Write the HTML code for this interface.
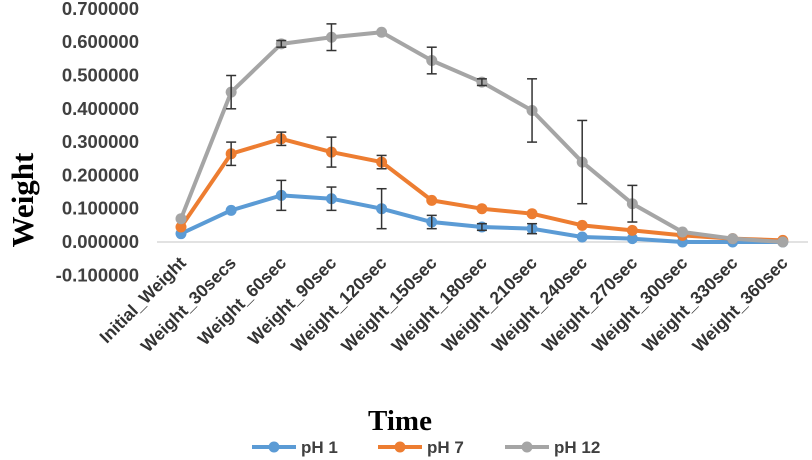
<!DOCTYPE html>
<html><head><meta charset="utf-8"><style>
body{margin:0;background:#fff;}
svg{display:block;font-family:"Liberation Sans",sans-serif;}
</style></head><body>
<svg id="chart" width="812" height="460">
<g id="yaxis"></g>
<g id="xaxis"></g>
<g id="series"></g>
<text x="33" y="200" transform="rotate(-90 33 200)" text-anchor="middle" font-family="Liberation Serif,serif" font-weight="bold" font-size="31" fill="#000">Weight</text>
<text x="400" y="430" text-anchor="middle" font-family="Liberation Serif,serif" font-weight="bold" font-size="29" fill="#000">Time</text>
<g id="legend"></g>
</svg>
<script>
const categories=["Initial_Weight","Weight_30secs","Weight_60sec","Weight_90sec","Weight_120sec","Weight_150sec","Weight_180sec","Weight_210sec","Weight_240sec","Weight_270sec","Weight_300sec","Weight_330sec","Weight_360sec"];
const ph1=[0.025,0.095,0.14,0.13,0.1,0.06,0.045,0.04,0.015,0.01,0.0,0.0,0.0];
const ph1Err=[0,0,0.045,0.035,0.06,0.02,0.01,0.015,0,0,0,0,0];
const ph7=[0.045,0.265,0.31,0.27,0.24,0.125,0.1,0.085,0.05,0.035,0.02,0.01,0.005];
const ph7Err=[0,0.035,0.02,0.045,0.02,0,0,0,0,0,0,0,0];
const ph12=[0.07,0.45,0.595,0.615,0.63,0.545,0.48,0.395,0.24,0.115,0.03,0.01,0.0];
const ph12Err=[0,0.05,0.01,0.04,0,0.04,0.01,0.095,0.125,0.055,0,0,0];
const yTicks=[-0.1,0,0.1,0.2,0.3,0.4,0.5,0.6,0.7];
const seriesNames=["pH 1","pH 7","pH 12"];
const NS="http://www.w3.org/2000/svg";
const y=v=>242-v*333;
const x=i=>181+i*50.15;
function mk(t,a,p){const e=document.createElementNS(NS,t);for(const k in a)e.setAttribute(k,a[k]);p.appendChild(e);return e;}
const ya=document.getElementById('yaxis');
yTicks.forEach(v=>{const t=mk('text',{x:139,y:y(v)+6,'text-anchor':'end','font-size':18.5,'font-weight':'bold',fill:'#404040'},ya);


t.textContent=v.toFixed(6);});
const xa=document.getElementById('xaxis');
const ax=mk('line',{x1:157,x2:808,y1:y(0),y2:y(0),stroke:'#d9d9d9','stroke-width':1.5},xa);


categories.forEach((c,i)=>{const tx=x(i)+6,ty=264;const t=mk('text',{x:tx,y:ty,'text-anchor':'end','font-size':17.5,'font-weight':'bold',fill:'#333',transform:`rotate(-45 ${tx} ${ty})`},xa);


t.textContent=c;});
const sg=document.getElementById('series');
const colors=["#5b9bd5","#ed7d31","#a5a5a5"];
[[ph1,ph1Err],[ph7,ph7Err],[ph12,ph12Err]].forEach(([vals,errs],s)=>{
const g=mk('g',{},sg);


const pl=mk('polyline',{points:vals.map((v,i)=>x(i)+','+y(v)).join(' '),fill:'none',stroke:colors[s],'stroke-width':4,'stroke-linejoin':'round'},g);


vals.forEach((v,i)=>{const c=mk('circle',{cx:x(i),cy:y(v),r:5.5,fill:colors[s]},g);


const e=errs[i];if(e>0){const eg=mk('g',{stroke:'#333','stroke-width':1.5},g);


mk('line',{x1:x(i),x2:x(i),y1:y(v+e),y2:y(v-e)},eg);
mk('line',{x1:x(i)-5,x2:x(i)+5,y1:y(v+e),y2:y(v+e)},eg);
mk('line',{x1:x(i)-5,x2:x(i)+5,y1:y(v-e),y2:y(v-e)},eg);}});
});
const lg=document.getElementById('legend');
const lx=[252,378,505];
seriesNames.forEach((n,s)=>{const g=mk('g',{},lg);


mk('line',{x1:lx[s],x2:lx[s]+44,y1:447,y2:447,stroke:colors[s],'stroke-width':4},g);
mk('circle',{cx:lx[s]+22,cy:447,r:5.5,fill:colors[s]},g);
const t=mk('text',{x:lx[s]+49,y:453,'font-size':17,'font-weight':'bold',fill:'#404040'},g);t.textContent=n;});
</script>
</body></html>
